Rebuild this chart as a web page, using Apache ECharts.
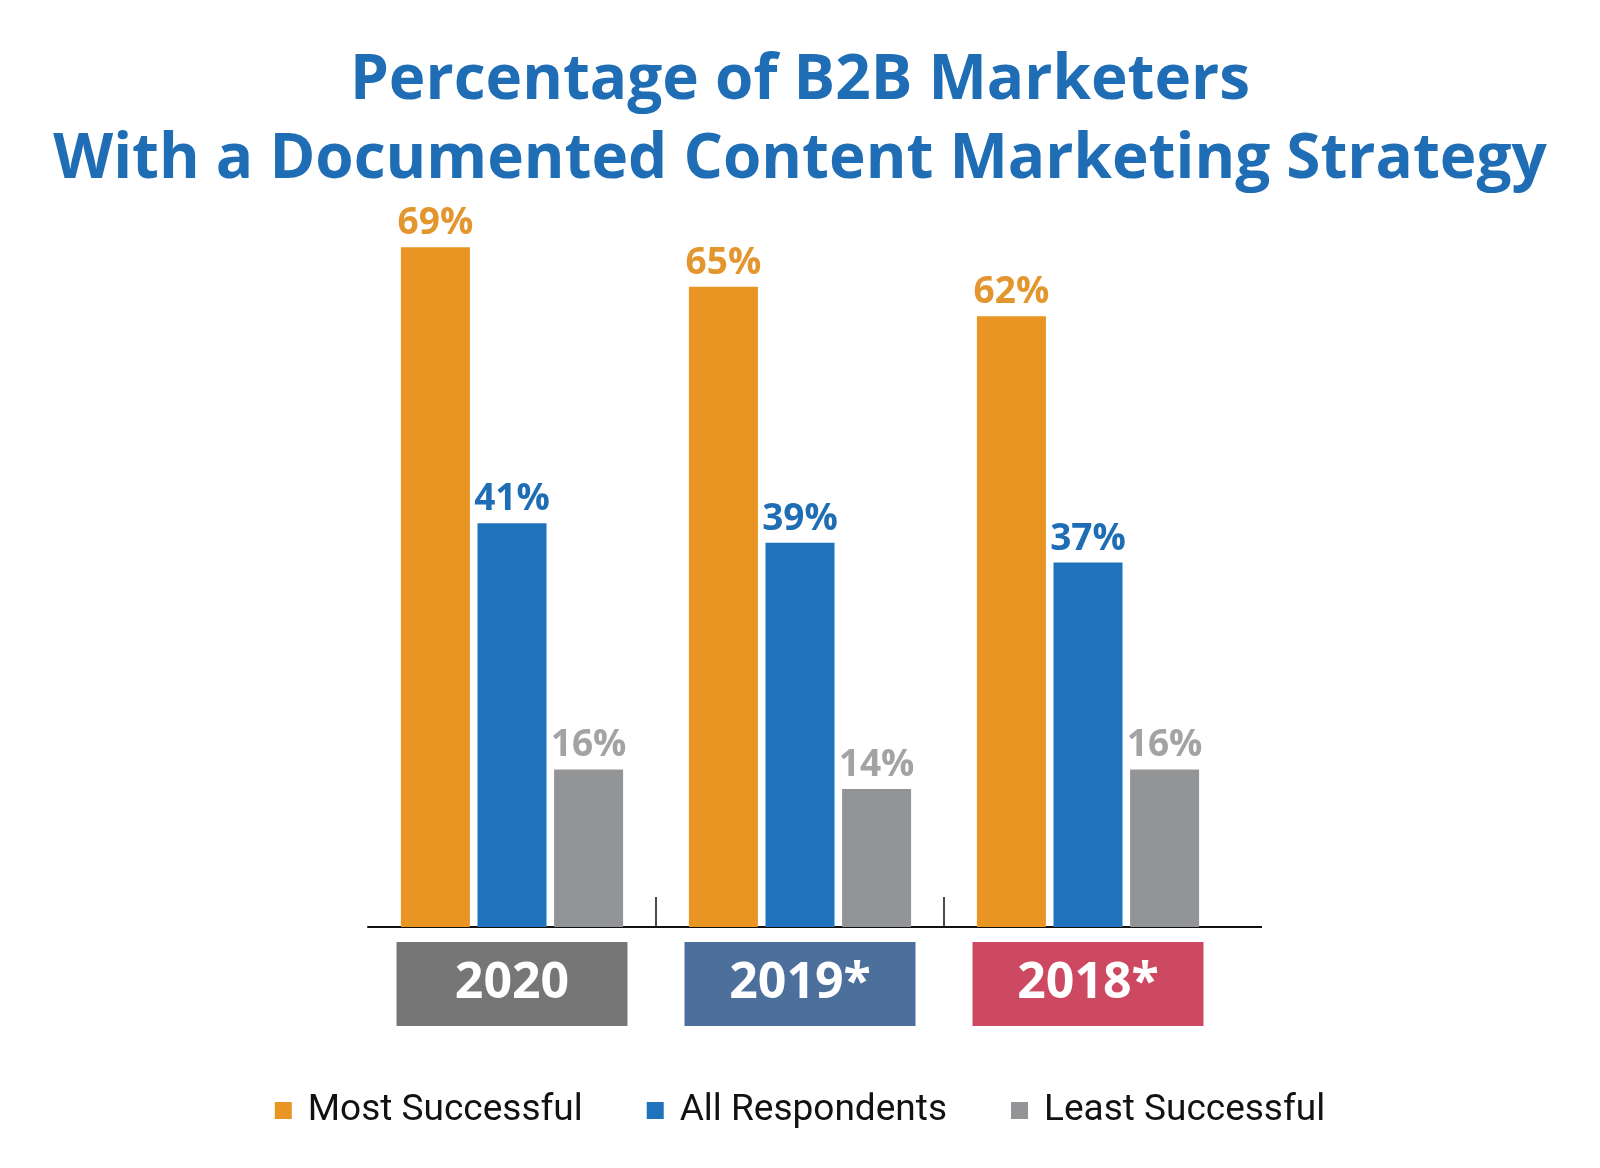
<!DOCTYPE html>
<html>
<head>
<meta charset="utf-8">
<script src="https://cdn.jsdelivr.net/npm/echarts@6/dist/echarts.min.js"></script>
<style>
html,body{margin:0;padding:0;background:#fff;}
#chart{width:1600px;height:1168px;}
</style>
</head>
<body>
<div id="chart"></div>
<script>
const categories = ['2020', '2019*', '2018*'];
const seriesNames = ['Most Successful', 'All Respondents', 'Least Successful'];
const mostSuccessful = [69, 65, 62];
const allRespondents = [41, 39, 37];
const leastSuccessful = [16, 14, 16];
const titleLines = ['Percentage of B2B Marketers', 'With a Documented Content Marketing Strategy'];

const barColors = ['#E99524', '#1F72BC', '#939496'];
const labelColors = ['#E3952E', '#1F6DB5', '#A3A3A5'];
const boxColors = ['#767676', '#4C6F9B', '#CD4962'];
const FONT = 'Open Sans';

const chart = echarts.init(document.getElementById('chart'));

const rich = {};
boxColors.forEach((c, i) => {
  rich['b' + i] = {
    backgroundColor: c, width: 231, height: 84, lineHeight: 84,
    align: 'center', color: '#ffffff', fontSize: 50, fontWeight: 'bold', fontFamily: FONT
  };
});

function makeSeries(name, data, idx) {
  return {
    name: name, type: 'bar', data: data,
    barWidth: 69, barGap: '11%',
    itemStyle: { color: barColors[idx] },
    label: {
      show: true, position: 'top', distance: 5,
      formatter: '{c}%', color: labelColors[idx],
      fontSize: 37, fontWeight: 'bold', fontFamily: FONT
    }
  };
}

const option = {
  backgroundColor: '#ffffff',
  animation: false,
  title: {
    text: titleLines.join('\n'),
    left: 'center', top: 42, padding: [0, 26, 0, 0],
    textStyle: { color: '#1F6DB5', fontSize: 62, fontWeight: 'bold', fontFamily: FONT, lineHeight: 79 }
  },
  legend: {
    data: seriesNames, left: 'center', top: 1087,
    icon: 'rect', itemWidth: 17, itemHeight: 17, itemGap: 64,
    textStyle: { fontSize: 37, color: '#111111', fontFamily: 'Roboto', padding: [0, 0, 0, 11] }
  },
  grid: { left: 368, width: 864, top: 927 - 70 * 9.85, height: 70 * 9.85 },
  xAxis: {
    type: 'category', data: categories,
    axisLine: { show: true, lineStyle: { color: '#111111', width: 2 } },
    axisTick: { show: false },
    axisLabel: {
      margin: 15,
      formatter: (v, i) => '{b' + i + '|' + v + '}',
      rich: rich
    }
  },
  yAxis: { type: 'value', min: 0, max: 70, show: false, splitLine: { show: false } },
  series: [
    makeSeries(seriesNames[0], mostSuccessful, 0),
    makeSeries(seriesNames[1], allRespondents, 1),
    makeSeries(seriesNames[2], leastSuccessful, 2)
  ]
};
chart.setOption(option);

// axis decorations: separators between groups and right extension of the baseline
const y0 = chart.convertToPixel({ yAxisIndex: 0 }, 0);
const centers = categories.map((c, i) => chart.convertToPixel({ xAxisIndex: 0 }, i));
const band = centers[1] - centers[0];
const elements = [];
for (let i = 0; i < centers.length - 1; i++) {
  const x = (centers[i] + centers[i + 1]) / 2;
  elements.push({ type: 'line', shape: { x1: x, y1: y0, x2: x, y2: y0 - 30 }, style: { stroke: '#111111', lineWidth: 1.5 } });
}
const xEnd = centers[centers.length - 1] + band / 2;
elements.push({ type: 'line', shape: { x1: xEnd - 1, y1: y0, x2: xEnd + 30, y2: y0 }, style: { stroke: '#111111', lineWidth: 2 } });
chart.setOption({ graphic: elements });
</script>
</body>
</html>
